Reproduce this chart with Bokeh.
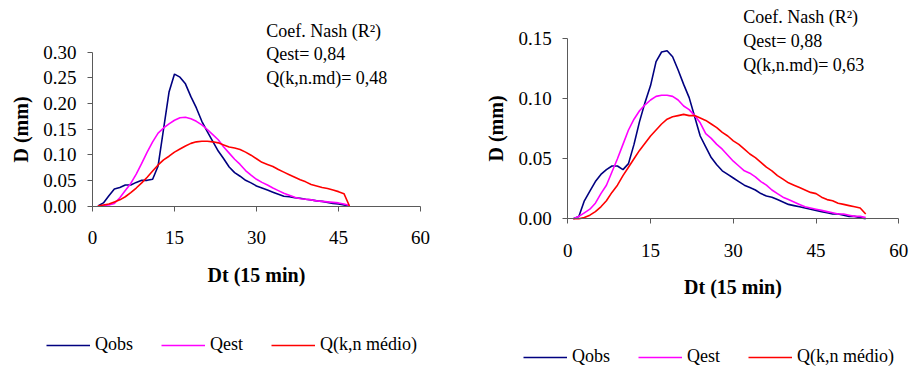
from bokeh.plotting import figure
from bokeh.models import Range1d, FixedTicker, NumeralTickFormatter, Label, Legend, LegendItem
from bokeh.layouts import row
from bokeh.embed import file_html
from bokeh.resources import INLINE

# ---------------- data (left chart) ----------------
dt_left = list(range(1, 48))
qobs_left = [0.000, 0.006, 0.020, 0.033, 0.036, 0.041, 0.041, 0.046, 0.050, 0.050,
             0.052, 0.078, 0.150, 0.222, 0.257, 0.251, 0.238, 0.213, 0.191, 0.165,
             0.145, 0.126, 0.107, 0.092, 0.076, 0.065, 0.058, 0.050, 0.045, 0.039,
             0.035, 0.031, 0.027, 0.023, 0.019, 0.018, 0.016, 0.015, 0.013, 0.012,
             0.010, 0.009, 0.007, 0.005, 0.004, 0.002, 0.000]
qest_left = [0.000, 0.001, 0.002, 0.005, 0.016, 0.030, 0.044, 0.062, 0.083, 0.105,
             0.125, 0.142, 0.152, 0.160, 0.167, 0.172, 0.173, 0.170, 0.165, 0.158,
             0.149, 0.139, 0.129, 0.115, 0.103, 0.091, 0.081, 0.069, 0.060, 0.052,
             0.046, 0.041, 0.035, 0.030, 0.025, 0.021, 0.017, 0.014, 0.013, 0.012,
             0.010, 0.009, 0.008, 0.007, 0.006, 0.004, 0.001]
qkn_left = [0.000, 0.002, 0.004, 0.008, 0.012, 0.018, 0.026, 0.035, 0.045, 0.056,
            0.068, 0.080, 0.090, 0.097, 0.105, 0.111, 0.117, 0.122, 0.125, 0.126,
            0.126, 0.125, 0.123, 0.119, 0.115, 0.113, 0.110, 0.105, 0.099, 0.092,
            0.085, 0.081, 0.077, 0.071, 0.066, 0.061, 0.056, 0.051, 0.047, 0.042,
            0.039, 0.036, 0.034, 0.031, 0.028, 0.024, 0.000]

# ---------------- data (right chart) ----------------
dt_right = list(range(1, 55))
qobs_right = [0.000, 0.002, 0.015, 0.023, 0.031, 0.037, 0.041, 0.044, 0.044, 0.041,
              0.046, 0.062, 0.081, 0.097, 0.111, 0.131, 0.139, 0.140, 0.135, 0.124,
              0.112, 0.101, 0.085, 0.069, 0.060, 0.051, 0.045, 0.040, 0.037, 0.034,
              0.031, 0.028, 0.026, 0.024, 0.021, 0.019, 0.018, 0.016, 0.014, 0.012,
              0.011, 0.010, 0.009, 0.008, 0.007, 0.006, 0.005, 0.004, 0.004, 0.003,
              0.002, 0.002, 0.001, 0.000]
qest_right = [0.000, 0.002, 0.005, 0.008, 0.013, 0.021, 0.028, 0.039, 0.050, 0.062,
              0.074, 0.083, 0.090, 0.095, 0.099, 0.102, 0.103, 0.103, 0.102, 0.099,
              0.094, 0.091, 0.086, 0.080, 0.071, 0.067, 0.062, 0.058, 0.053, 0.048,
              0.044, 0.040, 0.038, 0.035, 0.031, 0.028, 0.024, 0.021, 0.018, 0.016,
              0.014, 0.012, 0.010, 0.009, 0.008, 0.007, 0.006, 0.005, 0.004, 0.004,
              0.003, 0.002, 0.002, 0.001]
qkn_right = [0.000, 0.000, 0.001, 0.003, 0.006, 0.010, 0.015, 0.022, 0.028, 0.036,
             0.043, 0.050, 0.057, 0.063, 0.069, 0.074, 0.079, 0.083, 0.085, 0.086,
             0.087, 0.086, 0.086, 0.084, 0.082, 0.079, 0.076, 0.072, 0.069, 0.065,
             0.062, 0.058, 0.054, 0.051, 0.047, 0.043, 0.040, 0.036, 0.033, 0.030,
             0.028, 0.026, 0.024, 0.022, 0.021, 0.018, 0.016, 0.015, 0.013, 0.012,
             0.011, 0.010, 0.009, 0.004]

x_ticks = [0, 15, 30, 45, 60]
y_ticks_left = [0.00, 0.05, 0.10, 0.15, 0.20, 0.25, 0.30]
y_ticks_right = [0.00, 0.05, 0.10, 0.15]

series_names = ["Qobs", "Qest", "Q(k,n médio)"]
series_colors = ["#000080", "#FF00FF", "#FF0000"]

annot_left = ["Coef. Nash (R²)", "Qest= 0,84", "Q(k,n.md)= 0,48"]
annot_right = ["Coef. Nash (R²)", "Qest= 0,88", "Q(k,n.md)= 0,63"]

FONT = "Liberation Serif"
X_MAX = 60
AXIS_COLOR = "#5a5a5a"


def make_chart(dt, ys, y_max, y_ticks, annots, annot_px, annot_py,
               width, height, x0_px, x60_px, y0_px, ymax_px, leg_loc):
    # The plot frame covers the whole canvas; the axes are pinned at 0 with
    # fixed_location and limited with bounds, so texts outside the axes box
    # (annotations, legend) lie inside the frame and are not clipped.
    sx = (x60_px - x0_px) / X_MAX
    sy = (y0_px - ymax_px) / y_max
    x_start = -x0_px / sx
    x_end = (width - x0_px) / sx
    y_start = -(height - y0_px) / sy
    y_end = y0_px / sy

    p = figure(width=width, height=height, output_backend="svg", toolbar_location=None,
               x_range=Range1d(x_start, x_end), y_range=Range1d(y_start, y_end),
               min_border_left=0, min_border_right=0,
               min_border_top=0, min_border_bottom=0)
    if "frame_align" in p.properties():
        p.frame_align = False
    p.outline_line_color = None
    p.xgrid.visible = False
    p.ygrid.visible = False
    p.background_fill_color = "white"
    p.border_fill_color = "white"

    for ax in (p.xaxis[0], p.yaxis[0]):
        ax.fixed_location = 0
        ax.axis_line_color = AXIS_COLOR
        ax.major_tick_line_color = AXIS_COLOR
        ax.major_tick_in = 0
        ax.major_tick_out = 5
        ax.minor_tick_line_color = None
        ax.major_label_text_font = FONT
        ax.major_label_text_font_size = "19px"
        ax.major_label_text_color = "black"
        ax.axis_label_text_font = FONT
        ax.axis_label_text_font_size = "20px"
        ax.axis_label_text_font_style = "bold"
        ax.axis_label_text_color = "black"

    p.xaxis[0].ticker = FixedTicker(ticks=x_ticks)
    p.yaxis[0].ticker = FixedTicker(ticks=y_ticks)
    p.xaxis[0].bounds = (0, X_MAX)
    p.yaxis[0].bounds = (0, y_max)
    p.yaxis[0].formatter = NumeralTickFormatter(format="0.00")
    p.xaxis[0].axis_label = "Dt (15 min)"
    p.yaxis[0].axis_label = "D (mm)"
    p.xaxis[0].major_label_standoff = 20
    p.yaxis[0].major_label_standoff = 11
    p.xaxis[0].axis_label_standoff = 16
    p.yaxis[0].axis_label_standoff = 8

    items = []
    for name, color, y in zip(series_names, series_colors, ys):
        r = p.line(dt, y, line_color=color, line_width=1.6)
        items.append(LegendItem(label=name, renderers=[r]))

    leg = Legend(items=items, orientation="horizontal", location=leg_loc,
                 glyph_width=44, glyph_height=20, label_standoff=5, spacing=28,
                 padding=0, margin=0, border_line_color=None,
                 background_fill_alpha=0,
                 label_text_font=FONT, label_text_font_size="18px",
                 label_text_color="black")
    p.add_layout(leg, "center")

    ax_ = (annot_px - x0_px) / sx
    for txt, py in zip(annots, annot_py):
        p.add_layout(Label(x=ax_, y=(y0_px - py) / sy, text=txt, text_font=FONT,
                           text_font_size="18px", text_color="black",
                           text_baseline="middle", text_align="left"))
    return p


left = make_chart(dt_left, [qobs_left, qest_left, qkn_left], 0.30, y_ticks_left,
                  annot_left, 265.7, [30, 53.3, 77.3],
                  460, 369, 92, 420, 205.5, 51.5, (46, 14))

right = make_chart(dt_right, [qobs_right, qest_right, qkn_right], 0.15, y_ticks_right,
                   annot_right, 742.7 - 460, [16, 40, 64],
                   452, 369, 567.3 - 460, 898.3 - 460, 218.3, 38.3, (63, 2))

layout = row(left, right)
open("out.html", "w").write(file_html(layout, INLINE))
